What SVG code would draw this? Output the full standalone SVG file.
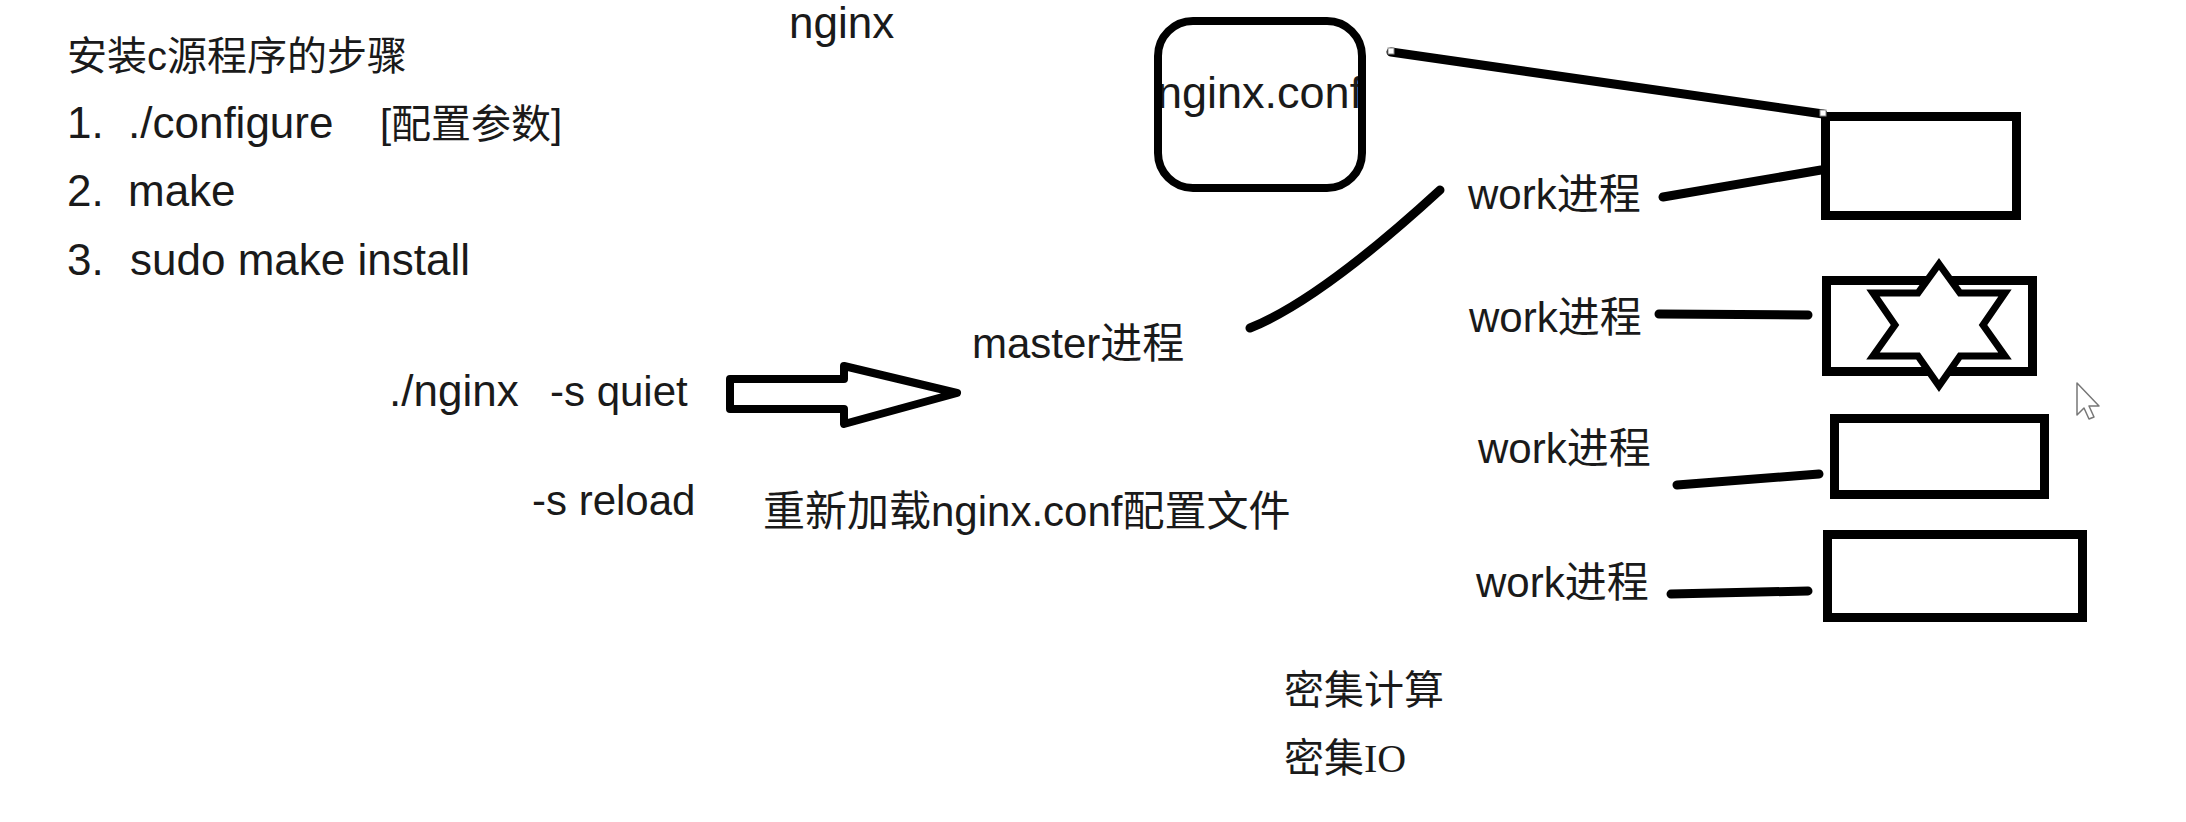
<svg xmlns="http://www.w3.org/2000/svg" width="2186" height="822" viewBox="0 0 2186 822">
<style>
  .t { font-family: "Liberation Sans", "Noto Sans CJK SC", sans-serif; font-size: 42px; fill: #1a1a1a; }
  .l { font-size: 44px; }
  .m { font-size: 40px; }
  .s { font-family: "Liberation Serif", "Noto Sans CJK SC", serif; font-size: 40px; fill: #1a1a1a; }
  .box { fill: #fff; stroke: #000; stroke-width: 9; }
  .ln { fill: none; stroke: #000; stroke-width: 9; stroke-linecap: round; }
</style>
<rect width="2186" height="822" fill="#fff"/>

<g id="install-steps">
  <text class="t m" x="67" y="70">安装c源程序的步骤</text>
  <text class="t l" x="67" y="138">1.</text>
  <text class="t l" x="128" y="138">./configure</text>
  <text class="t m" x="380" y="138">[配置参数]</text>
  <text class="t l" x="67" y="206">2.</text>
  <text class="t l" x="128" y="206">make</text>
  <text class="t l" x="67" y="275">3.</text>
  <text class="t l" x="130" y="275">sudo make install</text>
</g>

<g id="title"><text class="t l" x="789" y="38">nginx</text></g>

<g id="nginx-conf">
  <text class="t" x="1157" y="108" style="font-size:45px">nginx.conf</text>
  <rect x="1158" y="21" width="204" height="167" rx="35" fill="none" stroke="#000" stroke-width="8"/>
</g>

<g id="cmd-quiet"><text class="t l" x="389" y="406">./nginx</text><text class="t" x="550" y="406">-s quiet</text></g>
<g id="arrow"><polygon points="730,379 844,379 844,366 957,393 844,424 844,409 730,409" fill="#fff" stroke="#000" stroke-width="8" stroke-linejoin="round"/></g>
<g id="master"><text class="t" x="972" y="358">master进程</text></g>
<g id="cmd-reload"><text class="t" x="532" y="515">-s reload</text></g>
<g id="reload-desc"><text class="t" x="763" y="526">重新加载nginx.conf配置文件</text></g>

<g id="work1"><text class="t" x="1468" y="209">work进程</text><rect class="box" x="1825.5" y="116.5" width="191" height="99"/></g>
<g id="work2"><text class="t" x="1469" y="332">work进程</text><rect class="box" x="1826.5" y="280.5" width="206" height="91"/>
  <polygon points="1939,264 1960,293 2005,293 1983,325 2005,356 1960,356 1939,386 1918,356 1873,356 1895,325 1873,293 1918,293" fill="#fff" stroke="#000" stroke-width="7" stroke-linejoin="miter"/>
</g>
<g id="work3"><text class="t" x="1478" y="463">work进程</text><rect class="box" x="1834.5" y="418.5" width="210" height="76"/></g>
<g id="work4"><text class="t" x="1476" y="597">work进程</text><rect class="box" x="1827.5" y="534.5" width="255" height="83"/></g>

<g id="notes">
  <text class="s" x="1284" y="704">密集计算</text>
  <text class="s" x="1284" y="772">密集IO</text>
</g>

<g id="connectors">
  <line class="ln" x1="1391" y1="52" x2="1823" y2="114"/>
  <path class="ln" d="M1250,328 Q1320,300 1440,190"/>
  <line class="ln" x1="1663" y1="197" x2="1821" y2="170"/>
  <line class="ln" x1="1659" y1="314" x2="1808" y2="315"/>
  <line class="ln" x1="1677" y1="485" x2="1819" y2="474"/>
  <line class="ln" x1="1671" y1="594" x2="1808" y2="591"/>
  <rect x="1388" y="48" width="6" height="6" fill="#fff" stroke="#888" stroke-width="1"/>
  <rect x="1820" y="110" width="6" height="6" fill="#fff" stroke="#888" stroke-width="1"/>
</g>

<g id="cursor"><polygon points="2077,383 2077,415 2084,408 2089,419 2094,417 2089,406 2099,406" fill="#fff" stroke="#777" stroke-width="1.5" stroke-linejoin="round"/></g>
</svg>
